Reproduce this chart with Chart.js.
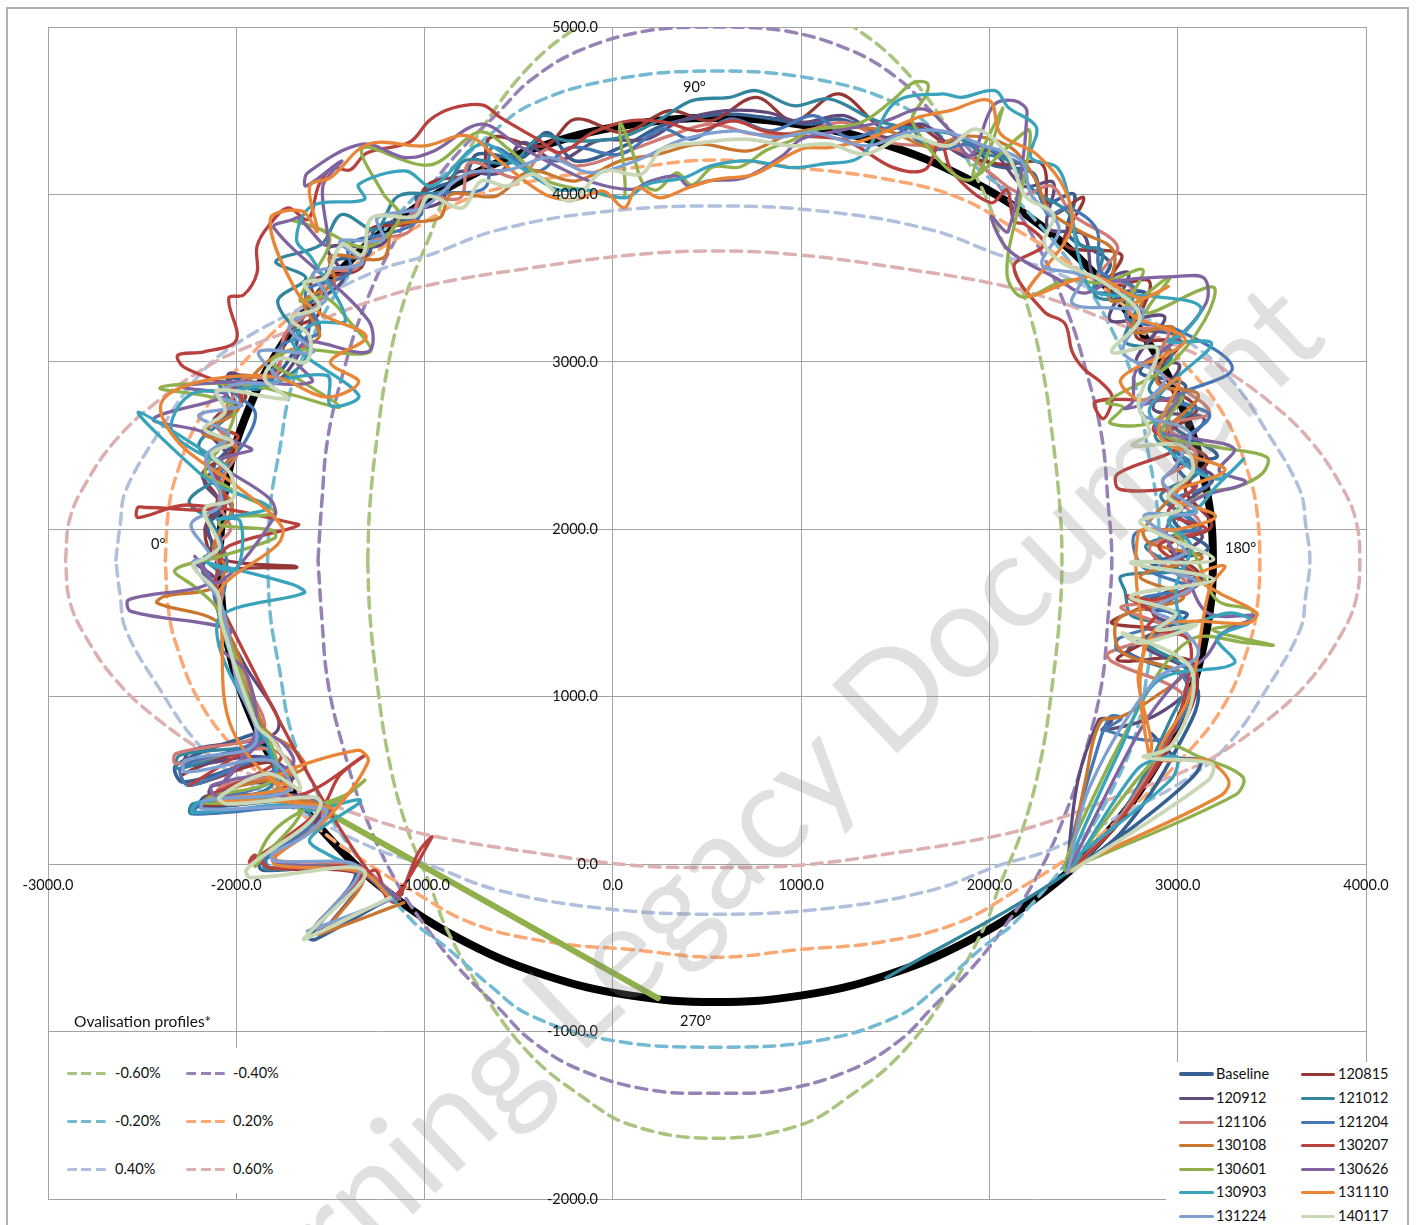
<!DOCTYPE html>
<html>
<head>
<meta charset="utf-8">
<title>Ovalisation profiles</title>
<script src="https://cdn.jsdelivr.net/npm/chart.js@4/dist/chart.umd.min.js"></script>
<style>
html, body { margin: 0; padding: 0; background: #fff; overflow: hidden; }
#page { position: relative; width: 1416px; height: 1225px; overflow: hidden; font-family: Lato, sans-serif; color: #111; }
#frame { position: absolute; left: 6px; top: 7px; width: 1403px; height: 1300px; border: 2px solid #b0b0b0; box-sizing: border-box; }
canvas { position: absolute; left: 0; top: 0; }
.box { position: absolute; background: #fff; }
.lab { position: absolute; font-size: 14.5px; line-height: 18px; white-space: nowrap; }
.sw { position: absolute; height: 3px; border-radius: 2px; }
#mark { position: absolute; left: 729px; top: 843px; width: 0; height: 0; }
#mark span { position: absolute; transform: translate(-50%, -50%) rotate(-43.6deg); font-size: 132px; white-space: nowrap; color: rgba(140,140,140,.27); }
</style>
</head>
<body>
<div id="page">
  <div id="frame"></div>
  <canvas id="grafica" width="1416" height="1225"></canvas>
</div>
<script>
const xTicks = [-3000, -2000, -1000, 0, 1000, 2000, 3000, 4000]
const yTicks = [-2000, -1000, 0, 1000, 2000, 3000, 4000, 5000]

const ring = [[-2093,1816],[-2053,2274],[-1934,2719],[-1739,3136],[-1475,3513],[-1150,3838],[-773,4102],[-356,4297],[88,4416],[547,4456],[1005,4416],[1450,4297],[1867,4102],[2244,3838],[2569,3513],[2833,3136],[3028,2719],[3147,2274],[3187,1816],[3147,1358],[3028,913],[2833,496],[2569,119],[2244,-206],[1867,-470],[1450,-665],[1005,-784],[547,-824],[88,-784],[-356,-665],[-773,-470],[-1150,-206],[-1475,119],[-1739,496],[-1934,913],[-2053,1358],[-2093,1816]]

const ovalM060 = [[-1302,1816],[-1291,2133],[-1254,2533],[-1194,2981],[-1099,3399],[-970,3758],[-880,4026],[-682,4415],[-436,4773],[-174,5012],[98,5191],[547,5269],[993,5191],[1264,5012],[1524,4773],[1769,4415],[1965,4026],[2055,3758],[2183,3399],[2278,2981],[2337,2533],[2374,2133],[2385,1816],[2374,1499],[2337,1099],[2278,651],[2183,233],[2055,-126],[1965,-394],[1769,-783],[1524,-1141],[1264,-1380],[993,-1559],[547,-1637],[98,-1559],[-174,-1380],[-436,-1141],[-682,-783],[-880,-394],[-970,-126],[-1099,233],[-1194,651],[-1254,1099],[-1291,1499],[-1302,1816]]
const ovalM040 = [[-1566,1816],[-1545,2174],[-1513,2551],[-1433,2933],[-1327,3310],[-1155,3728],[-969,4044],[-809,4265],[-606,4492],[-435,4684],[-169,4863],[205,4982],[547,5000],[887,4982],[1259,4863],[1524,4684],[1694,4492],[1896,4265],[2055,4044],[2241,3728],[2411,3310],[2517,2933],[2597,2551],[2629,2174],[2650,1816],[2629,1458],[2597,1081],[2517,699],[2411,322],[2241,-96],[2055,-412],[1896,-633],[1694,-860],[1524,-1052],[1259,-1231],[887,-1350],[547,-1368],[205,-1350],[-169,-1231],[-435,-1052],[-606,-860],[-809,-633],[-969,-412],[-1155,-96],[-1327,322],[-1433,699],[-1513,1081],[-1545,1458],[-1566,1816]]
const ovalM020 = [[-1834,1816],[-1818,2157],[-1770,2473],[-1711,2832],[-1604,3130],[-1421,3489],[-1068,3967],[-885,4128],[-655,4355],[-440,4534],[-10,4684],[547,4737],[1099,4684],[1524,4534],[1737,4355],[1965,4128],[2146,3967],[2496,3489],[2677,3130],[2783,2832],[2841,2473],[2889,2157],[2905,1816],[2889,1475],[2841,1159],[2783,800],[2677,502],[2496,143],[2146,-335],[1965,-496],[1737,-723],[1524,-902],[1099,-1052],[547,-1093],[-10,-1052],[-440,-902],[-655,-723],[-885,-496],[-1068,-335],[-1421,143],[-1604,502],[-1711,800],[-1770,1159],[-1818,1475],[-1834,1816]]
const ovalP020 = [[-2377,1816],[-2360,2115],[-2318,2324],[-2200,2652],[-2000,2951],[-1571,3411],[-1329,3608],[-1071,3787],[-748,3985],[-334,4098],[96,4158],[547,4206],[993,4158],[1418,4098],[1827,3985],[2146,3787],[2401,3608],[2640,3411],[3064,2951],[3261,2652],[3378,2324],[3420,2115],[3436,1816],[3420,1517],[3378,1308],[3261,980],[3064,681],[2640,221],[2401,24],[2146,-155],[1827,-353],[1418,-466],[993,-510],[547,-556],[96,-510],[-334,-466],[-748,-353],[-1071,-155],[-1329,24],[-1571,221],[-2000,681],[-2200,980],[-2318,1308],[-2360,1517],[-2377,1816]]
const ovalP040 = [[-2640,1816],[-2617,2025],[-2586,2234],[-2403,2593],[-2220,2891],[-2027,3088],[-1604,3351],[-1245,3548],[-976,3638],[-611,3787],[-64,3895],[547,3931],[1152,3895],[1694,3787],[2055,3638],[2321,3548],[2677,3351],[3096,3088],[3287,2891],[3468,2593],[3649,2234],[3680,2025],[3702,1816],[3680,1607],[3649,1398],[3468,1039],[3287,741],[3096,544],[2677,281],[2321,84],[2055,-6],[1694,-155],[1152,-263],[547,-299],[-64,-263],[-611,-155],[-976,-6],[-1245,84],[-1604,281],[-2027,544],[-2220,741],[-2403,1039],[-2586,1398],[-2617,1607],[-2640,1816]]
const ovalP060 = [[-2907,1816],[-2886,2055],[-2805,2264],[-2640,2533],[-2424,2760],[-2141,2981],[-1942,3088],[-1582,3238],[-1298,3357],[-976,3459],[-440,3560],[96,3638],[547,3662],[993,3638],[1524,3560],[2055,3459],[2374,3357],[2655,3238],[3011,3088],[3208,2981],[3489,2760],[3702,2533],[3866,2264],[3946,2055],[3967,1816],[3946,1577],[3866,1368],[3702,1099],[3489,872],[3208,651],[3011,544],[2655,394],[2374,275],[2055,173],[1524,72],[993,-6],[547,-20],[96,-6],[-440,72],[-976,173],[-1298,275],[-1582,394],[-1942,544],[-2141,651],[-2424,872],[-2640,1099],[-2805,1368],[-2886,1577],[-2907,1816]]

const sBaseline = [[-1174,-197],[-1580,-450],[-1610,-440],[-1370,-36],[-1860,-36],[-1875,24],[-1660,190],[-1570,290],[-1640,380],[-2190,340],[-2170,400],[-1820,540],[-1800,640],[-2280,490],[-2320,590],[-1900,780],[-1870,770],[-1980,1100],[-2080,1450],[-2100,1620],[-2180,1760],[-2130,1900],[-2150,2020],[-2060,2200],[-2120,2370],[-2030,2510],[-2120,2650],[-1980,2760],[-2030,2900],[-1850,2870],[-1700,3050],[-1640,3290],[-1560,3420],[-1480,3600],[-1300,3640],[-1260,3800],[-1020,3880],[-1040,3990],[-790,4110],[-720,4240],[-480,4220],[-350,4370],[-200,4200],[60,4290],[240,4400],[400,4450],[600,4480],[800,4460],[1050,4420],[1200,4450],[1400,4380],[1560,4410],[1700,4280],[1880,4330],[2010,4180],[2230,4130],[2290,3950],[2450,4000],[2420,3760],[2640,3590],[2560,3420],[2830,3410],[2760,3220],[2990,3150],[2800,2940],[3040,2860],[2950,2650],[3210,2440],[3000,2380],[3090,2220],[2980,2050],[3160,1880],[2860,1800],[3100,1720],[2800,1540],[3050,1490],[2770,1320],[2740,1260],[3100,1060],[3000,700],[2700,190],[2414,-51],[2750,210],[3080,520],[3120,620],[2990,640],[2860,780]]
const s120815 = [[-1174,-197],[-1370,-48],[-1822,-24],[-1864,24],[-1556,293],[-1662,382],[-2167,352],[-1715,472],[-1811,609],[-2247,472],[-2289,532],[-1864,741],[-1885,860],[-2061,1428],[-2098,1726],[-1678,1774],[-2103,1828],[-2167,1995],[-2100,2180],[-2180,2330],[-2020,2480],[-2110,2660],[-1950,2790],[-2050,2910],[-1800,2940],[-1720,3180],[-1560,3290],[-1600,3480],[-1340,3560],[-1290,3790],[-1060,3840],[-980,4060],[-700,4140],[-650,4340],[-360,4290],[-200,4450],[60,4370],[300,4500],[520,4440],[760,4580],[960,4440],[1200,4600],[1440,4390],[1600,4420],[1830,4250],[2060,4180],[2280,4180],[2320,3880],[2500,3980],[2400,3700],[2700,3640],[2620,3450],[2850,3480],[2780,3150],[3020,3120],[2880,2920],[3100,2720],[2950,2560],[3160,2420],[3040,2240],[3180,2020],[2950,1900],[3120,1710],[2780,1520],[2650,1440],[2900,1390],[2680,1220],[3060,1220],[3100,1040],[2960,700],[2680,260],[2414,-51]]
const s120912 = [[-1120,-180],[-1560,-400],[-1520,-380],[-1320,-30],[-1780,-10],[-1800,40],[-1560,260],[-1640,400],[-2140,420],[-2120,470],[-1700,510],[-1860,640],[-2270,590],[-2240,680],[-1780,800],[-1960,1200],[-2090,1480],[-2110,1700],[-2210,1800],[-2100,1850],[-2160,2010],[-2070,2130],[-2170,2290],[-2040,2420],[-2150,2600],[-2010,2720],[-2040,2930],[-1820,2860],[-1640,3100],[-1580,3340],[-1430,3500],[-1510,3680],[-1230,3700],[-1120,3890],[-920,3950],[-830,4130],[-600,4130],[-480,4310],[-300,4200],[-80,4320],[180,4330],[360,4440],[600,4500],[820,4490],[1000,4430],[1230,4470],[1450,4340],[1640,4420],[1860,4230],[2010,4260],[2180,4050],[2340,4070],[2310,3800],[2500,3760],[2560,3500],[2740,3530],[2640,3250],[2930,3270],[2780,3000],[3010,2980],[2870,2720],[3140,2660],[2980,2430],[3190,2310],[3000,2100],[3130,1950],[2900,1780],[3130,1700],[2870,1500],[3040,1400],[2820,1310],[3090,1120],[2900,900],[2600,800],[2650,860],[2620,870],[2580,860],[2470,500],[2410,-51]]
const s121012 = [[-1150,-220],[-1390,-20],[-1840,-30],[-1850,30],[-1600,240],[-1660,340],[-2240,300],[-2230,360],[-1820,460],[-1860,700],[-2310,570],[-2300,650],[-1870,750],[-2010,1180],[-2090,1500],[-2060,1700],[-2170,1830],[-2080,1860],[-2130,2040],[-2250,2170],[-2050,2360],[-2200,2500],[-2020,2720],[-2090,2880],[-1870,2840],[-1620,3050],[-1780,3360],[-1630,3500],[-1790,3600],[-1550,3700],[-1440,3880],[-1260,3790],[-1140,3990],[-900,4020],[-790,4200],[-540,4190],[-380,4350],[-240,4320],[40,4340],[240,4440],[420,4560],[620,4580],[760,4620],[960,4530],[1150,4570],[1400,4440],[1620,4390],[1800,4360],[1960,4250],[2100,4200],[2240,4020],[2420,3890],[2480,3700],[2600,3660],[2560,3400],[2780,3340],[2720,3120],[2970,3060],[2850,2830],[3080,2720],[2880,2560],[3110,2350],[2910,2200],[3100,2020],[2830,1900],[3000,1760],[2700,1720],[2720,1630],[2760,1480],[3070,1420],[2830,1330],[3050,1150],[2960,860],[2690,280],[2414,-51],[1450,-680]]
const s121106 = [[-1180,-160],[-1360,-10],[-1780,20],[-1790,60],[-1540,270],[-1620,390],[-2100,420],[-2070,470],[-1690,560],[-1840,690],[-2320,600],[-2320,660],[-1860,790],[-1980,1150],[-2080,1500],[-2070,1720],[-2120,1880],[-2030,2000],[-2090,2150],[-2060,2330],[-1990,2480],[-2100,2620],[-2000,2820],[-1960,2900],[-1790,2920],[-1740,3170],[-1570,3340],[-1510,3530],[-1360,3560],[-1280,3720],[-1080,3780],[-1020,3980],[-810,3980],[-760,4190],[-500,4100],[-350,4270],[-200,4170],[80,4260],[300,4350],[520,4420],[750,4360],[990,4370],[1230,4430],[1470,4310],[1680,4290],[1850,4260],[2000,4130],[2180,4000],[2330,4050],[2440,3880],[2680,3690],[2580,3500],[2750,3450],[2740,3220],[2950,3180],[2880,2980],[3170,2700],[2950,2620],[3100,2440],[2920,2280],[3120,2020],[2850,1890],[3070,1640],[2820,1560],[2700,1530],[2950,1400],[2630,1260],[2650,1210],[3040,1000],[2960,760],[2660,230],[2414,-51]]
const s121204 = [[-1190,-200],[-1350,-40],[-1820,-20],[-1840,30],[-1620,220],[-1580,340],[-2220,300],[-2190,360],[-1800,500],[-1830,640],[-2250,470],[-2290,580],[-1880,760],[-1980,1120],[-2090,1480],[-2120,1690],[-2050,1790],[-2090,1990],[-2020,2100],[-2090,2310],[-1950,2530],[-1900,2700],[-2010,2830],[-1830,2880],[-1760,3100],[-1560,3180],[-1630,3420],[-1400,3530],[-1400,3700],[-1180,3770],[-1050,3830],[-970,3990],[-680,4040],[-640,4280],[-400,4140],[-230,4280],[40,4240],[260,4390],[420,4330],[620,4450],[840,4380],[1070,4470],[1250,4340],[1500,4400],[1700,4270],[1900,4300],[2080,4230],[2230,4120],[2310,3880],[2420,3920],[2570,3790],[2590,3540],[2770,3440],[2730,3260],[3000,3190],[3290,2960],[2980,2780],[3170,2680],[3000,2480],[3170,2280],[2960,2160],[3120,2000],[2780,1980],[2810,1780],[3060,1650],[2800,1580],[3000,1470],[2690,1350],[2680,1280],[3040,1100],[2950,760],[2620,800],[2700,870],[2640,880],[2560,640],[2450,200],[2414,-51]]
const s130108 = [[-1110,-230],[-1560,-420],[-1530,-400],[-1330,-60],[-1790,0],[-1800,40],[-1560,240],[-1500,350],[-2050,400],[-2030,450],[-1640,570],[-1700,690],[-1850,810],[-1950,1130],[-2090,1440],[-2420,1560],[-2380,1600],[-2120,1650],[-2060,1770],[-2120,1900],[-2020,2140],[-2120,2300],[-2000,2480],[-2180,2580],[-2000,2700],[-1950,2860],[-1800,3030],[-1560,3150],[-1640,3360],[-1480,3470],[-1500,3630],[-1220,3620],[-1160,3810],[-920,3860],[-860,4000],[-620,3990],[-440,4140],[-200,4080],[40,4200],[240,4240],[460,4300],[720,4260],[940,4360],[1160,4400],[1460,4380],[1690,4280],[1860,4350],[2100,4290],[2240,4100],[2320,3900],[2480,3780],[2660,3660],[2640,3370],[2810,3390],[2760,3180],[2980,3200],[2890,2880],[3110,2800],[2930,2560],[3100,2400],[2820,2000],[2850,1920],[3130,1830],[2800,1720],[3030,1590],[2690,1470],[2700,1270],[3020,1140],[2880,1000],[2700,880],[2590,850],[2510,500],[2420,-30]]
const s130207 = [[-2247,472],[-1822,741],[-1769,621],[-2167,382],[-1662,412],[-1317,651],[-1450,532],[-1556,322],[-1928,12],[-1901,54],[-1822,-24],[-1344,-36],[-1577,-364],[-1540,-316],[-1269,-36],[-1184,-215],[-961,161],[-1025,84],[-1184,-215],[-2098,1577],[-2090,1800],[-2040,1900],[-1700,2010],[-1670,2030],[-2258,2145],[-2523,2070],[-2523,2130],[-2480,2130],[-2070,2130],[-2070,2250],[-2160,2420],[-1990,2550],[-2120,2630],[-1970,2760],[-2015,2840],[-2280,2970],[-2310,3040],[-2172,3060],[-2000,3130],[-2040,3380],[-1960,3400],[-1890,3530],[-1890,3690],[-1830,3810],[-1725,3920],[-1620,3850],[-1560,4060],[-1487,4158],[-1397,4146],[-1306,4248],[-1078,4313],[-972,4445],[-850,4516],[-690,4534],[-600,4462],[-400,4330],[-280,4250],[-106,4370],[90,4440],[280,4430],[450,4380],[640,4440],[800,4380],[1000,4350],[1240,4320],[1490,4160],[1660,4150],[1740,4320],[1800,4140],[2007,3950],[2093,4027],[2130,3840],[2190,3820],[2290,3700],[2130,3570],[2290,3300],[2400,3230],[2440,3060],[2500,2960],[2590,2880],[2652,2790],[2605,2660],[2561,2760],[2800,2772],[2986,2750],[2870,2600],[3000,2490],[2680,2330],[2690,2240],[2960,2240],[3100,2260],[2950,2100],[3150,2000],[2900,1900],[3110,1700],[2880,1580],[2730,1600],[2880,1490],[2840,1410],[3050,1350],[3060,1130],[2960,750],[2680,240],[2414,-51]]
const s130601Tail = [[239,-800],[-1556,335]]
const s130601 = [[-1556,335],[-1450,382],[-1317,502],[-1423,412],[-1662,311],[-1822,173],[-1901,-12],[-1864,36],[-1662,293],[-1715,370],[-2167,364],[-2140,400],[-1795,514],[-1832,771],[-1885,830],[-2098,1517],[-2220,1655],[-2326,1756],[-2098,1834],[-1795,1948],[-1811,1995],[-2087,2025],[-2077,2067],[-1790,2097],[-1954,2192],[-2045,2252],[-2167,2342],[-2061,2533],[-2023,2742],[-2406,2844],[-1981,2868],[-1700,2802],[-1450,2730],[-1662,2891],[-1811,2999],[-1689,3071],[-1291,3059],[-1397,3238],[-1530,3387],[-1662,3369],[-1503,3740],[-1705,3847],[-1545,3788],[-1306,3686],[-1131,3865],[-1222,4009],[-1328,4277],[-972,4176],[-706,4373],[-547,4265],[-361,4086],[-106,4015],[0,3985],[64,3997],[37,4421],[106,4248],[159,4068],[234,4027],[340,4128],[420,4056],[531,4164],[675,4164],[818,4265],[956,4325],[1062,4385],[1312,4427],[1487,4564],[1593,4666],[1668,4666],[1668,4606],[1593,4427],[1896,4086],[2071,4516],[1912,4104],[2204,4385],[2215,4307],[2162,3967],[2093,3531],[2177,3387],[2411,3489],[2602,3471],[2815,3549],[2730,3328],[2958,3507],[2836,3292],[3187,3447],[3144,3250],[2942,2969],[2624,2760],[2709,2730],[2640,2635],[2852,2635],[3027,2790],[2921,2575],[3208,2491],[3473,2431],[3452,2336],[3314,2252],[3155,2216],[2958,2055],[3091,1846],[3208,1577],[3394,1517],[3367,1446],[3187,1398],[3505,1308],[3383,1320],[3064,1338],[2772,890],[2401,-36],[2942,693],[3118,639],[3346,520],[3304,412],[2496,6]]
const s130626 = [[-1130,-210],[-1340,-50],[-1800,10],[-1790,50],[-1510,300],[-1620,400],[-2110,410],[-2130,470],[-1700,600],[-1820,760],[-2060,500],[-1900,780],[-1950,1150],[-2090,1300],[-2030,1400],[-2560,1510],[-2570,1580],[-2140,1680],[-2220,1840],[-2100,1680],[-1800,2070],[-1820,2180],[-2100,2400],[-2030,2440],[-1920,2480],[-2200,2590],[-2440,2660],[-2050,2800],[-2290,2850],[-2000,2880],[-1600,2880],[-1690,3020],[-1620,3120],[-1300,3060],[-1300,3250],[-1800,3800],[-1700,3850],[-1670,3860],[-1520,3700],[-1540,4050],[-1440,4200],[-1630,4050],[-1620,4130],[-1330,4300],[-1100,4220],[-950,4260],[-700,4420],[-500,4290],[-300,4170],[-100,4070],[100,4030],[200,4080],[340,4110],[400,4050],[500,4080],[700,4100],[900,4230],[1000,4330],[1200,4380],[1450,4440],[1650,4510],[1790,4380],[1900,4230],[2020,4530],[2130,4560],[2200,4490],[2100,3780],[2010,3870],[2100,3670],[2370,3490],[2500,3410],[2650,3480],[3000,3510],[3140,3500],[3150,3350],[2960,3100],[2780,2950],[2760,2760],[2720,2720],[3000,2780],[2880,2600],[3100,2540],[3300,2480],[3220,2350],[3360,2280],[3100,2180],[2940,2000],[3040,1750],[3160,1500],[3410,1480],[3240,1380],[3150,1240],[3000,1100],[2800,800],[2414,-51]]
const s130903 = [[-1150,-230],[-1340,-30],[-1500,50],[-1610,150],[-1340,380],[-1610,320],[-1680,360],[-2230,310],[-2200,370],[-1800,420],[-1820,680],[-2060,1200],[-2100,1450],[-2000,1530],[-1640,1620],[-1700,1670],[-2150,1800],[-2000,1760],[-1980,2050],[-2100,2060],[-1830,2130],[-2080,2250],[-2200,2340],[-2520,2700],[-2050,2380],[-2340,2580],[-2250,2800],[-2000,2830],[-1520,2920],[-1500,2740],[-1350,2800],[-1700,3110],[-1580,3230],[-1420,3250],[-1600,3620],[-1680,3730],[-1600,3930],[-1320,3970],[-1350,4060],[-1100,4140],[-960,4050],[-700,4300],[-500,4170],[-300,4030],[-150,4030],[70,3980],[180,4060],[380,4100],[520,4170],[720,4200],[950,4160],[1100,4180],[1320,4230],[1500,4550],[1750,4600],[1850,4580],[2030,4620],[2100,4520],[2250,4400],[2220,4220],[2360,4160],[2420,3980],[2480,3600],[2560,3420],[2880,3390],[3120,3330],[3040,3180],[2950,3120],[3180,3110],[2990,2900],[2850,2720],[2900,2600],[2980,2440],[3210,2300],[3350,2420],[3200,2250],[3100,2120],[2950,2050],[3070,1900],[2990,1650],[3040,1450],[3280,1500],[3390,1450],[3210,1350],[3300,1200],[2900,1100],[2700,700],[2414,-51],[2780,560],[2930,640],[3000,630],[2960,500],[2480,60]]
const s131110 = [[-1184,-200],[-1330,-50],[-1790,-6],[-1800,40],[-1530,260],[-1300,610],[-1360,680],[-1820,510],[-1700,460],[-2100,380],[-1820,380],[-1500,340],[-1660,360],[-2020,800],[-2080,1450],[-2080,1650],[-1780,1910],[-1760,2020],[-2000,2260],[-2300,2510],[-2400,2750],[-2200,2880],[-1800,2910],[-1520,2790],[-1350,2880],[-1500,3000],[-1310,3150],[-1540,3280],[-1680,3420],[-1820,3850],[-1650,3900],[-1570,3780],[-1610,4050],[-1500,4100],[-1300,4300],[-1000,4290],[-770,4350],[-600,4200],[-360,4000],[-200,3970],[-50,4020],[60,3920],[130,4040],[250,3980],[400,4040],[550,4090],[750,4120],[1000,4270],[1150,4280],[1350,4330],[1620,4460],[1790,4500],[2000,4560],[2060,4360],[2250,4240],[2400,4030],[2430,3780],[2200,3400],[2550,3510],[2800,3380],[2950,3450],[2740,3300],[3040,3130],[2700,2900],[2810,2770],[3010,2900],[2900,2570],[3080,2440],[3250,2350],[2950,2200],[3200,2080],[3000,2000],[2830,2000],[2790,1980],[2780,1700],[2820,1300],[2790,1100],[2860,730],[2850,640],[2800,1100],[2880,1400],[3060,1450],[3370,1440],[3420,1500],[3220,1620],[3100,1720],[3250,1780],[3170,1650],[3060,1000],[2900,640],[3150,620],[3270,500],[3230,410],[2530,30],[2414,-51]]
const s131224 = [[-1170,-210],[-1620,-400],[-1590,-380],[-1350,-20],[-1800,20],[-1810,60],[-1620,180],[-1530,330],[-2180,330],[-2170,380],[-1720,440],[-1820,620],[-2270,550],[-2270,620],[-1900,720],[-2000,1100],[-2080,1550],[-2230,1800],[-2140,1840],[-2240,2030],[-2080,2150],[-2130,2330],[-2160,2440],[-2040,2560],[-2200,2680],[-1970,2740],[-2110,2800],[-1990,2870],[-1780,2880],[-1880,3060],[-1590,3060],[-1720,3210],[-1520,3380],[-1590,3530],[-1330,3590],[-1450,3720],[-1220,3730],[-1250,3860],[-1010,3920],[-860,4060],[-760,4130],[-540,4150],[-340,4220],[-120,4130],[120,4200],[380,4330],[650,4380],[860,4340],[1060,4370],[1350,4290],[1560,4370],[1750,4380],[1950,4300],[2170,4200],[2220,4000],[2370,3800],[2280,3580],[2490,3510],[2440,3350],[2680,3320],[2820,3300],[2710,3060],[2930,2900],[2800,2700],[3060,2580],[2990,2380],[2920,2280],[3100,2100],[2820,2080],[3040,1870],[2900,1780],[3100,1680],[2870,1520],[2980,1450],[3110,1250],[2880,1100],[2540,480],[2414,-51]]
const s140117 = [[-1184,-200],[-1640,-450],[-1620,-420],[-1320,-40],[-1925,-80],[-1945,-30],[-1780,110],[-1620,240],[-1550,360],[-1590,400],[-2050,360],[-2090,400],[-1830,540],[-1660,450],[-1800,730],[-1890,830],[-2080,1450],[-2100,1620],[-2230,1780],[-2160,1830],[-2090,1900],[-2170,2120],[-2020,2180],[-2030,2330],[-2130,2450],[-2020,2520],[-2170,2600],[-2060,2700],[-2100,2830],[-1730,2780],[-1850,2900],[-1770,3020],[-1630,3000],[-1610,3150],[-1710,3260],[-1560,3330],[-1640,3470],[-1530,3500],[-1440,3700],[-1330,3640],[-1280,3860],[-1050,3870],[-980,3990],[-800,3920],[-700,4080],[-560,4050],[-420,4120],[-230,3960],[-50,4140],[150,4120],[260,4270],[480,4310],[700,4330],[950,4290],[1150,4300],[1340,4240],[1560,4350],[1780,4290],[1930,4390],[2100,4230],[2190,3990],[2340,3880],[2290,3710],[2390,3590],[2600,3480],[2800,3270],[2650,3060],[2890,3080],[2790,2750],[2850,2580],[2760,2500],[3020,2500],[3080,2350],[2950,2200],[3020,2120],[2800,2040],[3190,1820],[2750,1800],[3190,1700],[2750,1600],[2990,1500],[2890,1400],[3100,1430],[2800,1320],[2710,1380],[3050,1200],[3080,1000],[2960,700],[2820,640],[3180,600],[3160,500],[2440,-40]]

const seriesNames = ['Baseline','120815','120912','121012','121106','121204','130108','130207','130601','130626','130903','131110','131224','140117']
const seriesPoints = [sBaseline,s120815,s120912,s121012,s121106,s121204,s130108,s130207,s130601,s130626,s130903,s131110,s131224,s140117]
const seriesColors = ['#376092','#953735','#604a7b','#31859c','#d07a76','#4577b5','#c9762f','#b8413d','#8fb04a','#8064a2','#3aa3bc','#e98536','#7f9fd0','#c8d8b6']
const seriesWidths = [3.6,3.3,3.3,3.3,3.3,3.3,3.3,3.3,3.3,3.3,3.3,3.3,3.3,3.8]

const ovalNames = ['-0.60%','-0.40%','-0.20%','0.20%','0.40%','0.60%']
const ovalPoints = [ovalM060,ovalM040,ovalM020,ovalP020,ovalP040,ovalP060]
const ovalColors = ['#a9c47f','#9682b5','#74b9d2','#fba874','#b0c0dc','#dcb0b0']

function aPuntos(lista){
    return lista.map(p => ({x: p[0], y: p[1]}))
}

// first dataset is painted last, so the list runs from top layer to bottom
const datasets = []
for (let i = seriesPoints.length - 1; i >= 0; i--) {
    datasets.push({label: seriesNames[i], data: aPuntos(seriesPoints[i]), borderColor: seriesColors[i], borderWidth: seriesWidths[i], tension: 0.35})
}
datasets.push({label: '130601 tail', data: aPuntos(s130601Tail), borderColor: '#8fb04a', borderWidth: 6, tension: 0})
for (let i = ovalPoints.length - 1; i >= 0; i--) {
    datasets.push({label: ovalNames[i], data: aPuntos(ovalPoints[i]), borderColor: ovalColors[i], borderWidth: 3.5, borderDash: [11, 7], tension: 0.4})
}
datasets.push({label: 'ring', data: aPuntos(ring), borderColor: '#000', borderWidth: 8, tension: 0.4})

new Chart(document.getElementById('grafica'), {
    type: 'scatter',
    data: {datasets: datasets},
    options: {
        responsive: false,
        animation: false,
        layout: {padding: {left: 48, top: 27, right: 50, bottom: 26}},
        elements: {point: {radius: 0}, line: {borderCapStyle: 'round', borderJoinStyle: 'round'}},
        datasets: {scatter: {showLine: true, pointRadius: 0}},
        plugins: {legend: {display: false}, tooltip: {enabled: false}},
        scales: {
            x: {
                type: 'linear', min: -3000, max: 4000, position: {y: 0},
                afterBuildTicks: s => { s.ticks = xTicks.map(v => ({value: v})) },
                grid: {color: '#a3a3a3', lineWidth: 1, drawTicks: false},
                border: {color: '#a3a3a3'},
                ticks: {z: 1, padding: 12, maxRotation: 0, autoSkip: false, color: '#111', font: {family: 'Lato', size: 14.5}, callback: v => Number(v).toFixed(1)}
            },
            y: {
                // labels sit a little left of the zero line, grid stays on x=0
                type: 'linear', min: -2000, max: 5000, position: {x: -80},
                afterBuildTicks: s => { s.ticks = yTicks.map(v => ({value: v})) },
                grid: {color: '#a3a3a3', lineWidth: 1, drawTicks: false},
                border: {display: false},
                ticks: {z: 1, autoSkip: false, color: '#111', font: {family: 'Lato', size: 14.5}, callback: v => Number(v).toFixed(1)}
            }
        }
    }
})

const page = document.getElementById('page')
function caja(x, y, w, h){
    const d = document.createElement('div')
    d.className = 'box'
    d.style.cssText = `left:${x}px;top:${y}px;width:${w}px;height:${h}px`
    page.appendChild(d)
}
function texto(t, x, y, size){
    const d = document.createElement('div')
    d.className = 'lab'
    d.textContent = t
    d.style.left = x + 'px'
    d.style.top = (y - 9) + 'px'
    if (size) d.style.fontSize = size + 'px'
    page.appendChild(d)
}
function muestra(color, x, y, w, h, dash){
    const d = document.createElement('div')
    d.className = 'sw'
    d.style.left = x + 'px'
    d.style.top = (y - h / 2) + 'px'
    d.style.width = w + 'px'
    d.style.height = h + 'px'
    d.style.background = dash ? `repeating-linear-gradient(90deg, ${color} 0 10px, transparent 10px 14.5px)` : color
    page.appendChild(d)
}

caja(55, 1048, 360, 145)
caja(1166, 1062, 232, 170)

texto('Ovalisation profiles*', 74, 1021, 15.5)
texto('90°', 683, 87)
texto('180°', 1225, 548)
texto('270°', 680, 1021)
texto('0°', 151, 544)

const ovalRows = [1073, 1121, 1169]
ovalNames.forEach((n, i) => {
    const col = i % 2, y = ovalRows[Math.floor(i / 2)]
    muestra(ovalColors[i], col ? 186 : 67, y, 39, 3, true)
    texto(n, col ? 233 : 115, y)
})
const filas = [1074, 1098, 1122, 1145, 1169, 1192, 1216]
seriesNames.forEach((n, i) => {
    const col = i % 2, y = filas[Math.floor(i / 2)]
    muestra(seriesColors[i], col ? 1301 : 1179, y, col ? 34 : 35, i == 0 ? 4 : 3, false)
    texto(n, col ? 1338 : 1216, y)
})

const mark = document.createElement('div')
mark.id = 'mark'
mark.innerHTML = '<span>Warning Legacy Document</span>'
page.appendChild(mark)
</script>
</body>
</html>
